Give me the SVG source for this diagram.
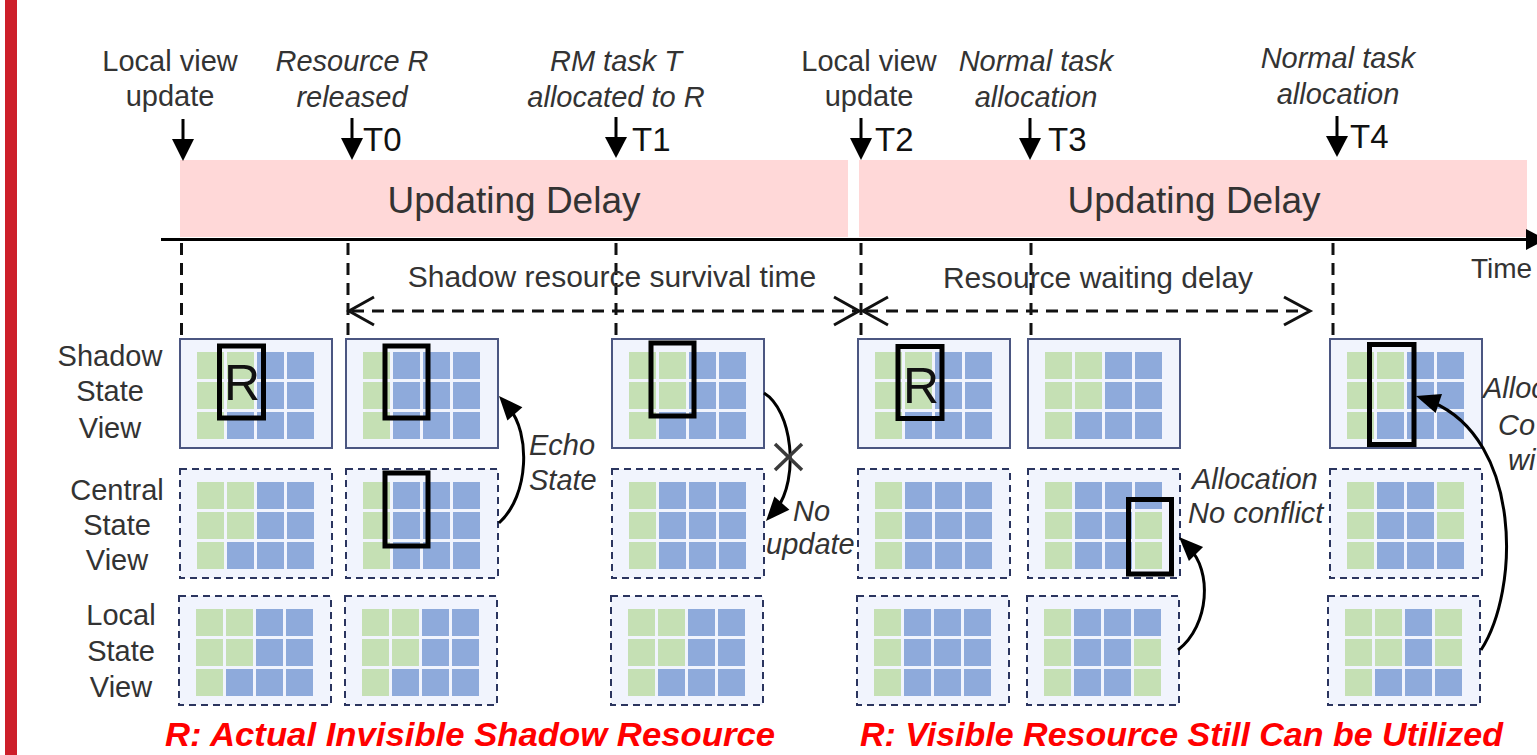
<svg xmlns="http://www.w3.org/2000/svg" xmlns:xlink="http://www.w3.org/1999/xlink" width="1537" height="755" viewBox="0 0 1537 755">
  <style>
    .lbl { font-family: "Liberation Sans", Arial, sans-serif; font-size: 29px; fill: #333; }
    .it { font-style: italic; }
    .mid { text-anchor: middle; }
    .tk { font-family: "Liberation Sans", Arial, sans-serif; font-size: 33px; fill: #111; }
    .big { font-family: "Liberation Sans", Arial, sans-serif; font-size: 37px; fill: #333; text-anchor: middle; }
    .rl { font-family: "Liberation Sans", Arial, sans-serif; font-size: 50px; fill: #111; text-anchor: middle; }
    .red { font-family: "Liberation Sans", Arial, sans-serif; font-size: 34px; font-weight: bold; font-style: italic; fill: #ff0000; }
    .g { fill: #c5e0b4; }
    .b { fill: #8eaadb; }
    .pnl { fill: #f1f4fd; stroke: #4b5681; stroke-width: 2; }
    .pnd { fill: #f1f4fd; stroke: #2b355f; stroke-width: 2; stroke-dasharray: 7 5; }
    .sel { fill: none; stroke: #000; stroke-width: 5; }
    .dash { fill: none; stroke: #111; stroke-width: 3; stroke-dasharray: 12 8; }
    .chev { fill: none; stroke: #111; stroke-width: 3; }
    .conn { fill: none; stroke: #000; stroke-width: 3; }
    .head { fill: #000; }
    .band { fill: #ffd8d8; }
  </style>
  <defs>
    <!-- 4x3 resource grids: g = free, b = busy -->
    <g id="pA">
      <rect class="g" x="17" y="13" width="27" height="27"/><rect class="g" x="47" y="13" width="27" height="27"/><rect class="b" x="77" y="13" width="27" height="27"/><rect class="b" x="107" y="13" width="27" height="27"/>
      <rect class="g" x="17" y="43" width="27" height="27"/><rect class="g" x="47" y="43" width="27" height="27"/><rect class="b" x="77" y="43" width="27" height="27"/><rect class="b" x="107" y="43" width="27" height="27"/>
      <rect class="g" x="17" y="73" width="27" height="27"/><rect class="b" x="47" y="73" width="27" height="27"/><rect class="b" x="77" y="73" width="27" height="27"/><rect class="b" x="107" y="73" width="27" height="27"/>
    </g>
    <g id="pB">
      <rect class="g" x="17" y="13" width="27" height="27"/><rect class="b" x="47" y="13" width="27" height="27"/><rect class="b" x="77" y="13" width="27" height="27"/><rect class="b" x="107" y="13" width="27" height="27"/>
      <rect class="g" x="17" y="43" width="27" height="27"/><rect class="b" x="47" y="43" width="27" height="27"/><rect class="b" x="77" y="43" width="27" height="27"/><rect class="b" x="107" y="43" width="27" height="27"/>
      <rect class="g" x="17" y="73" width="27" height="27"/><rect class="b" x="47" y="73" width="27" height="27"/><rect class="b" x="77" y="73" width="27" height="27"/><rect class="b" x="107" y="73" width="27" height="27"/>
    </g>
    <g id="pC">
      <rect class="g" x="17" y="13" width="27" height="27"/><rect class="b" x="47" y="13" width="27" height="27"/><rect class="b" x="77" y="13" width="27" height="27"/><rect class="b" x="107" y="13" width="27" height="27"/>
      <rect class="g" x="17" y="43" width="27" height="27"/><rect class="b" x="47" y="43" width="27" height="27"/><rect class="b" x="77" y="43" width="27" height="27"/><rect class="g" x="107" y="43" width="27" height="27"/>
      <rect class="g" x="17" y="73" width="27" height="27"/><rect class="b" x="47" y="73" width="27" height="27"/><rect class="b" x="77" y="73" width="27" height="27"/><rect class="g" x="107" y="73" width="27" height="27"/>
    </g>
    <g id="pD">
      <rect class="g" x="17" y="13" width="27" height="27"/><rect class="b" x="47" y="13" width="27" height="27"/><rect class="b" x="77" y="13" width="27" height="27"/><rect class="g" x="107" y="13" width="27" height="27"/>
      <rect class="g" x="17" y="43" width="27" height="27"/><rect class="b" x="47" y="43" width="27" height="27"/><rect class="b" x="77" y="43" width="27" height="27"/><rect class="g" x="107" y="43" width="27" height="27"/>
      <rect class="g" x="17" y="73" width="27" height="27"/><rect class="b" x="47" y="73" width="27" height="27"/><rect class="b" x="77" y="73" width="27" height="27"/><rect class="b" x="107" y="73" width="27" height="27"/>
    </g>
    <g id="pE">
      <rect class="g" x="17" y="13" width="27" height="27"/><rect class="g" x="47" y="13" width="27" height="27"/><rect class="b" x="77" y="13" width="27" height="27"/><rect class="g" x="107" y="13" width="27" height="27"/>
      <rect class="g" x="17" y="43" width="27" height="27"/><rect class="g" x="47" y="43" width="27" height="27"/><rect class="b" x="77" y="43" width="27" height="27"/><rect class="g" x="107" y="43" width="27" height="27"/>
      <rect class="g" x="17" y="73" width="27" height="27"/><rect class="b" x="47" y="73" width="27" height="27"/><rect class="b" x="77" y="73" width="27" height="27"/><rect class="b" x="107" y="73" width="27" height="27"/>
    </g>
  </defs>

  <rect width="1537" height="755" fill="#fff"/>
  <rect x="5" y="0" width="12" height="755" fill="#cd1f2a"/>

  <!-- event labels -->
  <g id="events">
    <text class="lbl mid" x="170" y="71">Local view</text>
    <text class="lbl mid" x="170" y="106">update</text>
    <text class="lbl it mid" x="352" y="71">Resource R</text>
    <text class="lbl it mid" x="352" y="107">released</text>
    <text class="lbl it mid" x="616" y="71">RM task T</text>
    <text class="lbl it mid" x="616" y="107">allocated to R</text>
    <text class="lbl mid" x="869" y="71">Local view</text>
    <text class="lbl mid" x="869" y="106">update</text>
    <text class="lbl it mid" x="1036" y="71">Normal task</text>
    <text class="lbl it mid" x="1036" y="107">allocation</text>
    <text class="lbl it mid" x="1338" y="68">Normal task</text>
    <text class="lbl it mid" x="1338" y="104">allocation</text>
    <text class="tk" x="363" y="151">T0</text>
    <text class="tk" x="632" y="151">T1</text>
    <text class="tk" x="875" y="151">T2</text>
    <text class="tk" x="1048" y="151">T3</text>
    <text class="tk" x="1350" y="148">T4</text>
  </g>

  <!-- updating delay bands -->
  <g id="delay1">
    <rect class="band" x="180" y="160" width="668" height="77"/>
    <text class="big" x="514" y="213">Updating Delay</text>
  </g>
  <g id="delay2">
    <rect class="band" x="859" y="160" width="668" height="77"/>
    <text class="big" x="1194" y="213">Updating Delay</text>
  </g>

  <!-- row labels -->
  <g id="row-labels">
    <text class="lbl mid" x="110" y="366">Shadow</text>
    <text class="lbl mid" x="110" y="401">State</text>
    <text class="lbl mid" x="110" y="438">View</text>
    <text class="lbl mid" x="117" y="500">Central</text>
    <text class="lbl mid" x="117" y="535">State</text>
    <text class="lbl mid" x="117" y="570">View</text>
    <text class="lbl mid" x="121" y="625">Local</text>
    <text class="lbl mid" x="121" y="661">State</text>
    <text class="lbl mid" x="121" y="697">View</text>
  </g>

  <!-- column 0: before T0 -->
  <g id="shadow-c0">
    <rect class="pnl" x="180" y="339" width="152" height="109"/>
    <use xlink:href="#pA" x="180" y="339"/>
    <rect class="sel" x="219.5" y="346" width="44" height="72"/>
    <text class="rl" x="242" y="400">R</text>
  </g>
  <g id="central-c0">
    <rect class="pnd" x="180" y="469" width="152" height="109"/>
    <use xlink:href="#pA" x="180" y="469"/>
  </g>
  <g id="local-c0">
    <rect class="pnd" x="179" y="596" width="152" height="109"/>
    <use xlink:href="#pA" x="179" y="596"/>
  </g>

  <!-- column 1: T0 -->
  <g id="shadow-t0">
    <rect class="pnl" x="346" y="339" width="152" height="109"/>
    <use xlink:href="#pB" x="346" y="339"/>
    <rect class="sel" x="385" y="346" width="43" height="72"/>
  </g>
  <g id="central-t0">
    <rect class="pnd" x="346" y="469" width="152" height="109"/>
    <use xlink:href="#pB" x="346" y="469"/>
    <rect class="sel" x="385" y="473" width="43" height="73"/>
  </g>
  <g id="local-t0">
    <rect class="pnd" x="345" y="596" width="152" height="109"/>
    <use xlink:href="#pA" x="345" y="596"/>
  </g>

  <!-- column 2: T1 -->
  <g id="shadow-t1">
    <rect class="pnl" x="612" y="339" width="152" height="109"/>
    <use xlink:href="#pA" x="612" y="339"/>
    <rect class="sel" x="651" y="343" width="43" height="73"/>
  </g>
  <g id="central-t1">
    <rect class="pnd" x="612" y="469" width="152" height="109"/>
    <use xlink:href="#pB" x="612" y="469"/>
  </g>
  <g id="local-t1">
    <rect class="pnd" x="611" y="596" width="152" height="109"/>
    <use xlink:href="#pA" x="611" y="596"/>
  </g>

  <!-- column 3: T2 -->
  <g id="shadow-t2">
    <rect class="pnl" x="858" y="339" width="152" height="109"/>
    <use xlink:href="#pA" x="858" y="339"/>
    <rect class="sel" x="898" y="346.5" width="44" height="72"/>
    <text class="rl" x="921" y="403">R</text>
  </g>
  <g id="central-t2">
    <rect class="pnd" x="858" y="469" width="152" height="109"/>
    <use xlink:href="#pB" x="858" y="469"/>
  </g>
  <g id="local-t2">
    <rect class="pnd" x="857" y="596" width="152" height="109"/>
    <use xlink:href="#pB" x="857" y="596"/>
  </g>

  <!-- column 4: T3 -->
  <g id="shadow-t3">
    <rect class="pnl" x="1028" y="339" width="152" height="109"/>
    <use xlink:href="#pA" x="1028" y="339"/>
  </g>
  <g id="central-t3">
    <rect class="pnd" x="1028" y="469" width="152" height="109"/>
    <use xlink:href="#pC" x="1028" y="469"/>
    <rect class="sel" x="1128.5" y="499.5" width="43" height="74.5"/>
  </g>
  <g id="local-t3">
    <rect class="pnd" x="1027" y="596" width="152" height="109"/>
    <use xlink:href="#pC" x="1027" y="596"/>
  </g>

  <!-- column 5: T4 -->
  <g id="shadow-t4">
    <rect class="pnl" x="1330" y="339" width="152" height="109"/>
    <use xlink:href="#pA" x="1330" y="339"/>
    <rect class="sel" x="1369.5" y="344.5" width="44.5" height="100"/>
  </g>
  <g id="central-t4">
    <rect class="pnd" x="1330" y="469" width="152" height="109"/>
    <use xlink:href="#pD" x="1330" y="469"/>
  </g>
  <g id="local-t4">
    <rect class="pnd" x="1328" y="596" width="152" height="109"/>
    <use xlink:href="#pE" x="1328" y="596"/>
  </g>

  <!-- connectors -->
  <g id="connectors">
    <!-- time axis -->
    <line x1="161" y1="239.5" x2="1530" y2="239.5" stroke="#000" stroke-width="3"/>
    <polygon points="1526,229 1546,239.5 1526,250" fill="#000"/>
    <!-- event arrows -->
    <g stroke="#000" stroke-width="3">
      <line x1="183" y1="119" x2="183" y2="142"/>
      <line x1="352" y1="118" x2="352" y2="142"/>
      <line x1="616" y1="117" x2="616" y2="140"/>
      <line x1="861" y1="118" x2="861" y2="142"/>
      <line x1="1030" y1="118" x2="1030" y2="142"/>
      <line x1="1337" y1="116" x2="1337" y2="139"/>
    </g>
    <g fill="#000">
      <polygon points="172,139 194,139 183,161"/>
      <polygon points="341,138 363,138 352,160"/>
      <polygon points="605,137 627,137 616,158"/>
      <polygon points="850,138 872,138 861,160"/>
      <polygon points="1019,138 1041,138 1030,160"/>
      <polygon points="1326,136 1348,136 1337,157"/>
    </g>
    <!-- drop lines from the axis -->
    <line class="dash" x1="181.5" y1="243" x2="181.5" y2="338"/>
    <line class="dash" x1="348" y1="243" x2="348" y2="338"/>
    <line class="dash" x1="616" y1="243" x2="616" y2="338"/>
    <line class="dash" x1="861" y1="243" x2="861" y2="338"/>
    <line class="dash" x1="1031" y1="243" x2="1031" y2="338"/>
    <line class="dash" x1="1333" y1="243" x2="1333" y2="338"/>
    <!-- interval arrows -->
    <line class="dash" x1="352" y1="311" x2="856" y2="311"/>
    <polyline class="chev" points="374,297 349,311 374,325"/>
    <polyline class="chev" points="834,297 859,311 834,325"/>
    <line class="dash" x1="866" y1="311" x2="1306" y2="311"/>
    <polyline class="chev" points="888,297 863,311 888,325"/>
    <polyline class="chev" points="1284,297 1310,311 1284,325"/>
    <!-- echo: central view pushed back into shadow view -->
    <path class="conn" d="M499,523 C530,495 530,432 509,408"/>
    <polygon class="head" points="499,396 522.4,407.3 507.4,420.5"/>
    <!-- shadow view does not reach central view -->
    <path class="conn" d="M764,393 C792,410 800,478 776,510"/>
    <polygon class="head" points="766,521 789.4,509.7 774.4,496.5"/>
    <g stroke="#3a3a3a" stroke-width="3.5">
      <line x1="775" y1="444" x2="802" y2="470"/>
      <line x1="802" y1="444" x2="775" y2="470"/>
    </g>
    <!-- local allocation at T3 -->
    <path class="conn" d="M1178,650 C1210,625 1212,570 1189,548"/>
    <polygon class="head" points="1179,537 1203.1,546.9 1188.9,561.1"/>
    <!-- local allocation at T4 -->
    <path class="conn" d="M1481,650 C1520,590 1522,440 1432,402"/>
    <polygon class="head" points="1416,396 1442,394.1 1435.6,413.1"/>
  </g>

  <!-- interval and arrow annotations -->
  <g id="annotations">
    <text class="lbl mid" x="612" y="287" style="font-size:30px">Shadow resource survival time</text>
    <text class="lbl mid" x="1098" y="288" style="font-size:30px">Resource waiting delay</text>
    <text class="lbl" x="1471" y="278" style="font-size:28px">Time</text>
    <text class="lbl it" x="529" y="455">Echo</text>
    <text class="lbl it" x="529" y="490">State</text>
    <text class="lbl it" x="793" y="521">No</text>
    <text class="lbl it" x="766" y="554">update</text>
    <text class="lbl it" x="1192" y="489">Allocation</text>
    <text class="lbl it" x="1188" y="523">No conflict</text>
    <text class="lbl it" x="1483" y="398">Alloc</text>
    <text class="lbl it" x="1498" y="435">Co</text>
    <text class="lbl it" x="1508" y="470">wi</text>
  </g>

  <!-- legend -->
  <g id="legend">
    <text class="red" x="165" y="746" textLength="610" lengthAdjust="spacingAndGlyphs">R: Actual Invisible Shadow Resource</text>
    <text class="red" x="860" y="746">R: Visible Resource Still Can be Utilized</text>
  </g>
</svg>
